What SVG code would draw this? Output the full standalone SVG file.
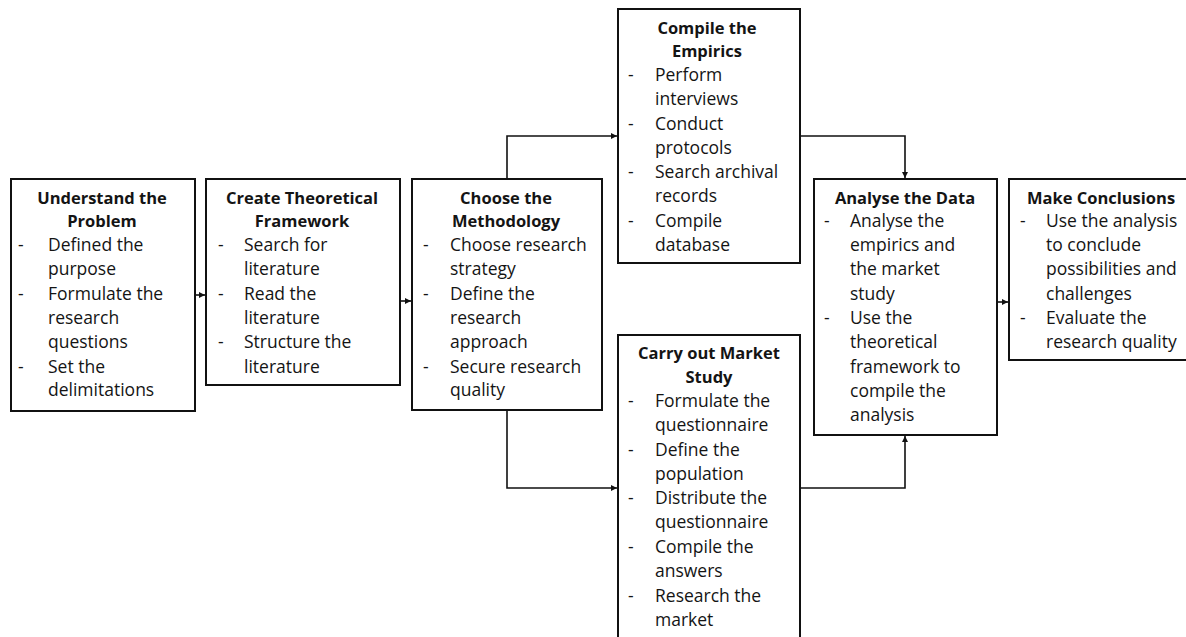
<svg xmlns="http://www.w3.org/2000/svg" width="1186" height="637" viewBox="0 0 1186 637">
  <style>
    .box { fill: #ffffff; stroke: #111111; stroke-width: 2; }
    .link { fill: none; stroke: #111111; stroke-width: 1.6; }
    text { font-family: "Open Sans", "Liberation Sans", sans-serif; font-size: 17.5px; fill: #141414; }
    .title { font-size: 16.5px; font-weight: 700; text-anchor: middle; }
  </style>
  <defs>
    <marker id="arrow" viewBox="0 0 10 10" refX="10" refY="5" markerWidth="6" markerHeight="6" orient="auto" markerUnits="userSpaceOnUse">
      <path d="M0,0 L10,5 L0,10 z" fill="#111111"/>
    </marker>
  </defs>
  <rect width="1186" height="637" fill="#ffffff"/>

  <g id="connectors">
    <path class="link" d="M195,295 H205" marker-end="url(#arrow)"/>
    <path class="link" d="M400,301 H411" marker-end="url(#arrow)"/>
    <path class="link" d="M507,179 V136 H617" marker-end="url(#arrow)"/>
    <path class="link" d="M507,410 V488 H617" marker-end="url(#arrow)"/>
    <path class="link" d="M800,136 H905 V178" marker-end="url(#arrow)"/>
    <path class="link" d="M800,488 H905 V436" marker-end="url(#arrow)"/>
    <path class="link" d="M997,302 H1008" marker-end="url(#arrow)"/>
  </g>

  <g id="understand-problem">
    <rect class="box" x="11" y="179" width="184" height="232"/>
    <text class="title" x="102" y="204">Understand the</text>
    <text class="title" x="102" y="227">Problem</text>
    <text x="18" y="251">-</text><text x="48" y="251">Defined the</text>
    <text x="48" y="275">purpose</text>
    <text x="18" y="300">-</text><text x="48" y="300">Formulate the</text>
    <text x="48" y="324">research</text>
    <text x="48" y="348">questions</text>
    <text x="18" y="373">-</text><text x="48" y="373">Set the</text>
    <text x="48" y="396">delimitations</text>
  </g>

  <g id="theoretical-framework">
    <rect class="box" x="206" y="179" width="194" height="206"/>
    <text class="title" x="302" y="204">Create Theoretical</text>
    <text class="title" x="302" y="227">Framework</text>
    <text x="218" y="251">-</text><text x="244" y="251">Search for</text>
    <text x="244" y="275">literature</text>
    <text x="218" y="300">-</text><text x="244" y="300">Read the</text>
    <text x="244" y="324">literature</text>
    <text x="218" y="348">-</text><text x="244" y="348">Structure the</text>
    <text x="244" y="373">literature</text>
  </g>

  <g id="methodology">
    <rect class="box" x="412" y="179" width="190" height="231"/>
    <text class="title" x="506" y="204">Choose the</text>
    <text class="title" x="506" y="227">Methodology</text>
    <text x="423" y="251">-</text><text x="450" y="251">Choose research</text>
    <text x="450" y="275">strategy</text>
    <text x="423" y="300">-</text><text x="450" y="300">Define the</text>
    <text x="450" y="324">research</text>
    <text x="450" y="348">approach</text>
    <text x="423" y="373">-</text><text x="450" y="373">Secure research</text>
    <text x="450" y="396">quality</text>
  </g>

  <g id="empirics">
    <rect class="box" x="618" y="9" width="182" height="254"/>
    <text class="title" x="707" y="34">Compile the</text>
    <text class="title" x="707" y="57">Empirics</text>
    <text x="628" y="81">-</text><text x="655" y="81">Perform</text>
    <text x="655" y="105">interviews</text>
    <text x="628" y="130">-</text><text x="655" y="130">Conduct</text>
    <text x="655" y="154">protocols</text>
    <text x="628" y="178">-</text><text x="655" y="178">Search archival</text>
    <text x="655" y="202">records</text>
    <text x="628" y="227">-</text><text x="655" y="227">Compile</text>
    <text x="655" y="251">database</text>
  </g>

  <g id="market-study">
    <rect class="box" x="618" y="335" width="182" height="310"/>
    <text class="title" x="709" y="359">Carry out Market</text>
    <text class="title" x="709" y="383">Study</text>
    <text x="628" y="407">-</text><text x="655" y="407">Formulate the</text>
    <text x="655" y="431">questionnaire</text>
    <text x="628" y="456">-</text><text x="655" y="456">Define the</text>
    <text x="655" y="480">population</text>
    <text x="628" y="504">-</text><text x="655" y="504">Distribute the</text>
    <text x="655" y="528">questionnaire</text>
    <text x="628" y="553">-</text><text x="655" y="553">Compile the</text>
    <text x="655" y="577">answers</text>
    <text x="628" y="602">-</text><text x="655" y="602">Research the</text>
    <text x="655" y="626">market</text>
  </g>

  <g id="analyse-data">
    <rect class="box" x="814" y="179" width="183" height="256"/>
    <text class="title" x="905" y="204">Analyse the Data</text>
    <text x="824" y="227">-</text><text x="850" y="227">Analyse the</text>
    <text x="850" y="251">empirics and</text>
    <text x="850" y="275">the market</text>
    <text x="850" y="300">study</text>
    <text x="824" y="324">-</text><text x="850" y="324">Use the</text>
    <text x="850" y="348">theoretical</text>
    <text x="850" y="373">framework to</text>
    <text x="850" y="397">compile the</text>
    <text x="850" y="421">analysis</text>
  </g>

  <g id="conclusions">
    <rect class="box" x="1009" y="179" width="186" height="181"/>
    <text class="title" x="1101" y="204">Make Conclusions</text>
    <text x="1020" y="227">-</text><text x="1046" y="227">Use the analysis</text>
    <text x="1046" y="251">to conclude</text>
    <text x="1046" y="275">possibilities and</text>
    <text x="1046" y="300">challenges</text>
    <text x="1020" y="324">-</text><text x="1046" y="324">Evaluate the</text>
    <text x="1046" y="348">research quality</text>
  </g>
</svg>
